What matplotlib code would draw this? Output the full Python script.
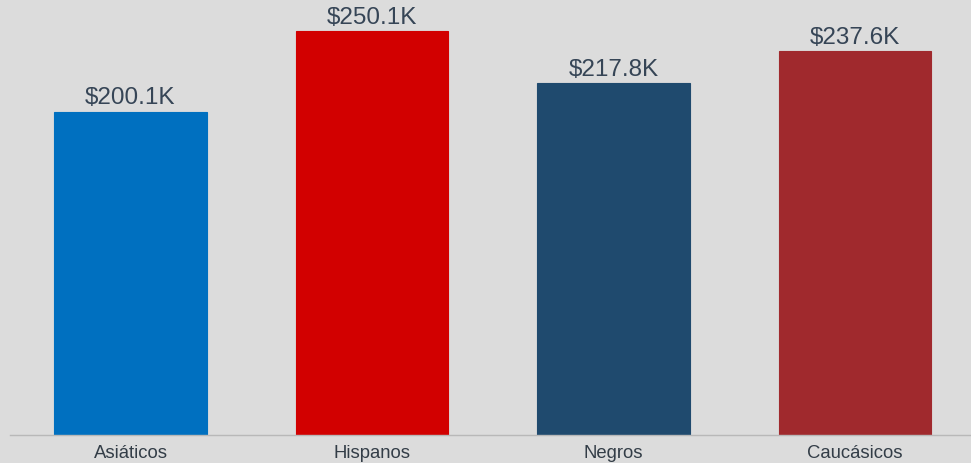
import matplotlib.pyplot as plt
import numpy as np

categories = ["Asiáticos", "Hispanos", "Negros", "Caucásicos"]
values = [200.1, 250.1, 217.8, 237.6]  # miles de dólares
labels = ["$200.1K", "$250.1K", "$217.8K", "$237.6K"]
colors = ["#0070c0", "#d20000", "#1f4a6e", "#a0292d"]

plt.rcParams['font.family'] = ['Liberation Sans', 'DejaVu Sans']

bg = "#dcdcdc"
fig = plt.figure(figsize=(9.71, 4.63), dpi=100, facecolor=bg)
ax = fig.add_axes([0.01, 28 / 463, 0.99, 435 / 463])
ax.set_facecolor(bg)

x = np.arange(len(categories))
bars = ax.bar(x, values, width=0.63, color=colors, edgecolor=colors, linewidth=0.8)

for b, lab in zip(bars, labels):
    ax.text(b.get_x() + b.get_width() / 2, b.get_height() + 1.5, lab,
            ha="center", va="bottom", fontsize=17.5, color="#364556")

ax.set_xlim(-0.5, 3.48)
ax.set_ylim(0, 269.3)
ax.set_yticks([])
ax.set_xticks(x)
ax.set_xticklabels(categories, fontsize=13.3, color="#333d47")
ax.tick_params(axis="x", length=0, pad=7)
for s in ["top", "right", "left"]:
    ax.spines[s].set_visible(False)
ax.spines["bottom"].set_color("#b8b8b8")
ax.spines["bottom"].set_linewidth(1)

plt.savefig("out.png", dpi=100, facecolor=bg)
plt.close()
